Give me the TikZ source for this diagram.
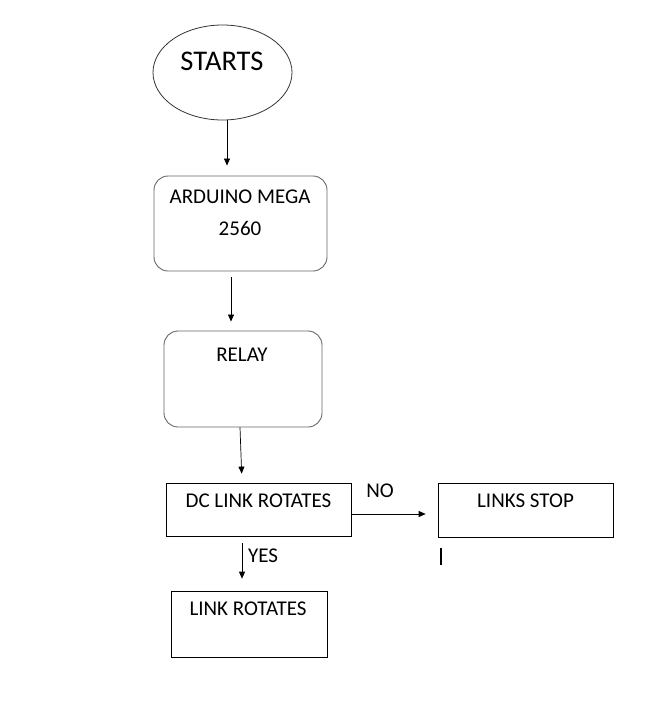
\documentclass[tikz,border=0pt]{standalone}
\usepackage{fontspec}
\setmainfont{Carlito}
\usetikzlibrary{shapes.geometric,arrows.meta}
\begin{document}
\begin{tikzpicture}[x=1pt,y=-1pt,
  txt/.style={inner sep=0pt,font=\fontsize{21}{24}\selectfont},
  rbox/.style={draw=black!60,line width=0.9pt,rounded corners=14pt,inner sep=0pt},
  sbox/.style={draw=black,line width=0.7pt,inner sep=0pt},
  arr/.style={draw=black,line width=0.7pt,-{Triangle[length=7pt,width=6pt]}}]
\useasboundingbox (0,0) rectangle (649,709);
\node[ellipse,draw=black!80,line width=0.8pt,minimum width=139pt,minimum height=95pt,inner sep=0pt] (start) at (222.5,72.5) {};
\node[txt,font=\fontsize{28.5}{30}\selectfont] (starttxt) at (222,61) {STARTS};
\node[rbox,minimum width=173pt,minimum height=95pt] (ard) at (240.5,223.5) {};
\node[txt] (ardtxt1) at (240,197) {ARDUINO MEGA};
\node[txt] (ardtxt2) at (240,228) {2560};
\node[rbox,minimum width=158pt,minimum height=96pt] (relay) at (243,379) {};
\node[txt] (relaytxt) at (242,355) {RELAY};
\node[sbox,minimum width=185pt,minimum height=53pt] (dc) at (258.5,509.5) {};
\node[txt] (dctxt) at (258.5,501) {DC LINK ROTATES};
\node[sbox,minimum width=175pt,minimum height=54pt] (stop) at (525.5,510) {};
\node[txt] (stoptxt) at (525.5,501) {LINKS STOP};
\node[sbox,minimum width=156pt,minimum height=66pt] (rot) at (249,624) {};
\node[txt] (rottxt) at (248,609) {LINK ROTATES};
\draw[arr,shorten >=10pt] ([xshift=4.5pt]start.south) -- ([xshift=-13.5pt]ard.north);
\draw[arr,shorten <=6pt,shorten >=9pt] ([xshift=-9.5pt]ard.south) -- ([xshift=-12pt]relay.north);
\draw[arr,shorten >=9pt] ([xshift=-3pt]relay.south) -- ([xshift=-16.5pt]dc.north);
\draw[arr,shorten >=12pt] ([yshift=-4.5pt]dc.east) -- ([yshift=-4pt]stop.west);
\node[txt] (no) at (380,491) {NO};
\draw[arr,shorten <=7pt,shorten >=12pt] ([xshift=-16.5pt]dc.south) -- ([xshift=-7pt]rot.north);
\node[txt] (yes) at (263,556) {YES};
\draw[black,line width=2pt] (440.5,548) -- (440.5,565);
\end{tikzpicture}
\end{document}
